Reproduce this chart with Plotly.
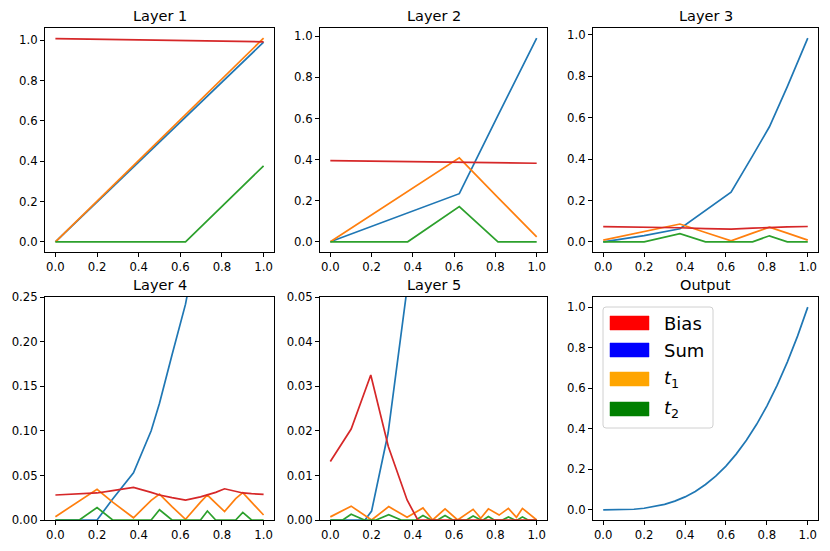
import plotly.graph_objects as go

# ---------------- data ----------------
L1_x = [0.0, 0.625, 1.0]
L1_sum = [0.0, 0.62, 0.99]
L1_t1 = [0.0, 0.632, 1.01]
L1_t2 = [0.0, 0.0, 0.377]
L1_bias = [1.008, 0.999, 0.992]

L2_x = [0.0, 0.375, 0.625, 0.8125, 1.0]
L2_sum = [0.0, 0.14, 0.234, 0.615, 0.99]
L2_t1 = [0.0, 0.245, 0.408, 0.215, 0.024]
L2_t2 = [0.0, 0.0, 0.171, 0.0, 0.0]
L2_bias = [0.395, 0.389, 0.385, 0.383, 0.382]

L3_x = [0.0, 0.2, 0.375, 0.5, 0.625, 0.73, 0.8125, 0.9, 1.0]
L3_sum = [0.0, 0.03, 0.063, 0.15, 0.24, 0.415, 0.556, 0.75, 0.984]
L3_t1 = [0.008, 0.05, 0.086, 0.045, 0.005, 0.042, 0.071, 0.042, 0.008]
L3_t2 = [0.0, 0.0, 0.039, 0.0, 0.0, 0.0, 0.029, 0.0, 0.0]
L3_bias = [0.073, 0.071, 0.068, 0.064, 0.061, 0.066, 0.070, 0.072, 0.074]

L4_x = [0.0, 0.115, 0.2, 0.275, 0.375, 0.46, 0.5, 0.56, 0.625, 0.697,
        0.73, 0.77, 0.8125, 0.866, 0.9, 0.942, 1.0]
L4_sum = [0.0, 0.0, 0.0, 0.0235, 0.053, 0.1, 0.131, 0.185, 0.242, 0.33,
          0.39, 0.45, 0.55, 0.66, 0.73, 0.84, 0.98]
L4_t1 = [0.0037, 0.021, 0.0345, 0.02, 0.0025, 0.022, 0.029, 0.015, 0.0008, 0.02,
         0.028, 0.019, 0.0095, 0.024, 0.0307, 0.02, 0.0056]
L4_t2 = [0.0, 0.0, 0.014, 0.0, 0.0, 0.0, 0.0115, 0.0, 0.0, 0.0,
         0.0101, 0.0, 0.0, 0.0, 0.0086, 0.0, 0.0]
L4_bias = [0.028, 0.029, 0.0303, 0.033, 0.0365, 0.031, 0.028, 0.025, 0.0222, 0.026,
           0.028, 0.031, 0.035, 0.032, 0.0303, 0.0295, 0.0288]

L5_sum_x = [0.0, 0.168, 0.2, 0.28, 0.375, 0.446, 0.5, 0.625, 0.75, 0.875, 1.0]
L5_sum = [0.0, 0.0, 0.002, 0.0195, 0.053, 0.09, 0.125, 0.24, 0.42, 0.67, 0.98]
L5_t1_x = [0.0, 0.101, 0.2, 0.283, 0.372, 0.449, 0.496, 0.556, 0.617, 0.692,
           0.729, 0.766, 0.818, 0.863, 0.902, 0.931, 1.0]
L5_t1 = [0.0007, 0.0031, 0.0, 0.0030, 0.0006, 0.0027, 0.0, 0.0025, 0.0, 0.0024,
         0.0004, 0.0025, 0.0011, 0.0026, 0.0006, 0.0026, 0.0]
L5_t2_x = [0.0, 0.06, 0.101, 0.165, 0.222, 0.283, 0.343, 0.415, 0.449, 0.488,
           0.52, 0.556, 0.593, 0.66, 0.692, 0.73, 0.741, 0.766, 0.794, 0.834,
           0.863, 0.894, 0.907, 0.931, 0.958, 1.0]
L5_t2 = [0.0, 0.0, 0.0013, 0.0, 0.0, 0.0012, 0.0, 0.0, 0.001, 0.0,
         0.0, 0.001, 0.0, 0.0, 0.0009, 0.0, 0.0, 0.0008, 0.0, 0.0,
         0.0007, 0.0, 0.0, 0.0007, 0.0, 0.0]
L5_bias_x = [0.0, 0.101, 0.196, 0.281, 0.372, 0.424, 1.0]
L5_bias = [0.0131, 0.0204, 0.0325, 0.0165, 0.0045, 0.0, 0.0]

OUT_x = [0.0, 0.05, 0.1, 0.15, 0.2, 0.25, 0.3, 0.35, 0.4, 0.45, 0.5,
         0.55, 0.6, 0.65, 0.7, 0.75, 0.8, 0.85, 0.9, 0.95, 1.0]
OUT_y = [0.0, 0.0001, 0.001, 0.003, 0.008, 0.016, 0.027, 0.043, 0.064, 0.091, 0.125,
         0.166, 0.216, 0.275, 0.343, 0.422, 0.512, 0.614, 0.729, 0.857, 1.0]

titles = ["Layer 1", "Layer 2", "Layer 3", "Layer 4", "Layer 5", "Output"]
legend_labels = ["Bias", "Sum", "<i>t</i><sub>1</sub>", "<i>t</i><sub>2</sub>"]
legend_colors = ["#ff0000", "#0000ff", "#ffa500", "#008000"]

# ---------------- styling ----------------
C_SUM, C_T1, C_T2, C_BIAS = "#1f77b4", "#ff7f0e", "#2ca02c", "#d62728"
W, H = 830, 551
FONT = "DejaVu Sans"
LW = 1.7

cols = [(45, 274), (320, 547), (593, 818)]
rows = [(28, 252), (297, 520)]


def xd(px):
    return px / W


def yd(py):
    return 1 - py / H


fig = go.Figure()


def add(panel, x, y, color):
    sfx = "" if panel == 1 else str(panel)
    fig.add_trace(go.Scatter(x=x, y=y, mode="lines", line=dict(color=color, width=LW),
                             xaxis="x" + sfx, yaxis="y" + sfx, showlegend=False,
                             hoverinfo="skip"))


layers = [
    (1, [(L1_x, L1_sum), (L1_x, L1_t1), (L1_x, L1_t2), (L1_x, L1_bias)]),
    (2, [(L2_x, L2_sum), (L2_x, L2_t1), (L2_x, L2_t2), (L2_x, L2_bias)]),
    (3, [(L3_x, L3_sum), (L3_x, L3_t1), (L3_x, L3_t2), (L3_x, L3_bias)]),
    (4, [(L4_x, L4_sum), (L4_x, L4_t1), (L4_x, L4_t2), (L4_x, L4_bias)]),
    (5, [(L5_sum_x, L5_sum), (L5_t1_x, L5_t1), (L5_t2_x, L5_t2), (L5_bias_x, L5_bias)]),
]
series_colors = [C_SUM, C_T1, C_T2, C_BIAS]
yranges = {}
for panel, series in layers:
    allv = []
    for (sx, sy), c in zip(series, series_colors):
        add(panel, sx, sy, c)
        allv += sy
    lo, hi = min(allv), max(allv)
    m = 0.05 * (hi - lo)
    yranges[panel] = [lo - m, hi + m]
add(6, OUT_x, OUT_y, C_SUM)
m = 0.05 * (max(OUT_y) - min(OUT_y))
yranges[6] = [min(OUT_y) - m, max(OUT_y) + m]
yranges[4] = [0, 0.25]
yranges[5] = [0, 0.05]

ydticks = {1: 0.2, 2: 0.2, 3: 0.2, 4: 0.05, 5: 0.01, 6: 0.2}
yfmt = {1: ".1f", 2: ".1f", 3: ".1f", 4: ".2f", 5: ".2f", 6: ".1f"}

axis_common = dict(showline=True, mirror=True, linecolor="black", linewidth=1,
                   ticks="outside", ticklen=4, tickwidth=1, tickcolor="black",
                   showgrid=False, zeroline=False, automargin=False,
                   tickfont=dict(family=FONT, size=11.7, color="black"))

layout = dict(width=W, height=H, autosize=False, margin=dict(l=0, r=0, t=0, b=0, pad=0),
              paper_bgcolor="white", plot_bgcolor="white", showlegend=False)
annotations = []
for i in range(6):
    panel = i + 1
    c0, c1 = cols[i % 3]
    r0, r1 = rows[i // 3]
    sfx = "" if panel == 1 else str(panel)
    layout["xaxis" + sfx] = dict(axis_common, domain=[xd(c0), xd(c1)], range=[-0.05, 1.05],
                                 anchor="y" + sfx, tick0=0, dtick=0.2, tickformat=".1f")
    layout["yaxis" + sfx] = dict(axis_common, domain=[yd(r1), yd(r0)], range=yranges[panel],
                                 anchor="x" + sfx, tick0=0, dtick=ydticks[panel],
                                 tickformat=yfmt[panel])
    annotations.append(dict(text=titles[i], x=xd((c0 + c1) / 2), y=yd(r0), xref="paper",
                            yref="paper", xanchor="center", yanchor="bottom", yshift=2,
                            showarrow=False, font=dict(family=FONT, size=14.5, color="black")))

# legend (drawn inside the Output panel)
shapes = []
bx0, bx1, by0, by1 = 603, 713, 307, 428
r = 3
path = (f"M {xd(bx0 + r)},{yd(by0)} L {xd(bx1 - r)},{yd(by0)} Q {xd(bx1)},{yd(by0)} {xd(bx1)},{yd(by0 + r)} "
        f"L {xd(bx1)},{yd(by1 - r)} Q {xd(bx1)},{yd(by1)} {xd(bx1 - r)},{yd(by1)} "
        f"L {xd(bx0 + r)},{yd(by1)} Q {xd(bx0)},{yd(by1)} {xd(bx0)},{yd(by1 - r)} "
        f"L {xd(bx0)},{yd(by0 + r)} Q {xd(bx0)},{yd(by0)} {xd(bx0 + r)},{yd(by0)} Z")
shapes.append(dict(type="path", path=path, xref="paper", yref="paper",
                   line=dict(color="#d0d0d0", width=1), fillcolor="rgba(255,255,255,0.8)"))
centers = [323, 350, 379, 409]
for lab, col, cy in zip(legend_labels, legend_colors, centers):
    shapes.append(dict(type="rect", xref="paper", yref="paper",
                       x0=xd(610), x1=xd(649), y0=yd(cy + 7), y1=yd(cy - 7),
                       fillcolor=col, line=dict(color=col, width=0.5)))
    annotations.append(dict(text=lab, x=xd(662), y=yd(cy), xref="paper", yref="paper",
                            xanchor="left", yanchor="middle", showarrow=False,
                            font=dict(family=FONT, size=18, color="black")))

layout["annotations"] = annotations
layout["shapes"] = shapes
fig.update_layout(**layout)
fig.write_html("out.html", config={"responsive": False, "displayModeBar": False},
               post_script="document.body.style.margin='0';document.body.style.padding='0';")
